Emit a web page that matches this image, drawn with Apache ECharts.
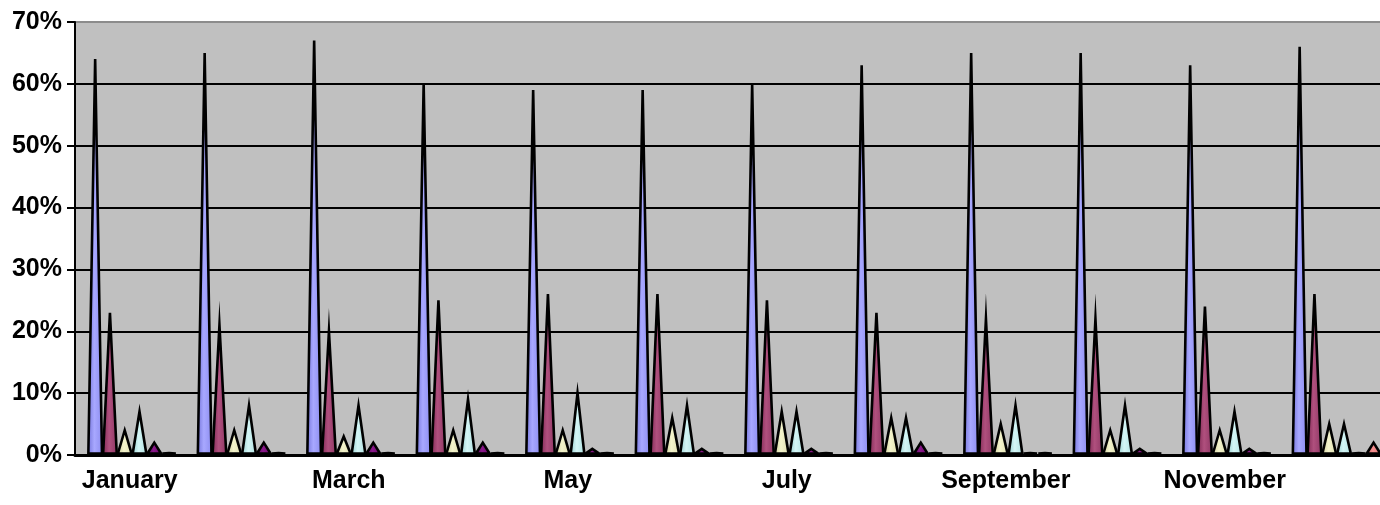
<!DOCTYPE html>
<html><head><meta charset="utf-8">
<script src="https://cdn.jsdelivr.net/npm/echarts@6/dist/echarts.min.js"></script>
<style>html,body{margin:0;padding:0;background:#fff;overflow:hidden;width:1380px;height:505px}#c{width:1390px;height:505px}</style>
</head><body><div id="c"></div>
<script>
const months = ['January','February','March','April','May','June','July','August','September','October','November','December'];
const yTicks = [0,10,20,30,40,50,60,70];
const s1 = [64,65,67,60,59,59,60,63,65,65,63,66];
const s2 = [23,21,20,25,26,26,25,23,22,22,24,26];
const s3 = [4,4,3,4,4,6,7,6,5,4,4,5];
const s4 = [7,8,8,9,10,8,7,6,8,8,7,5];
const s5 = [2,2,2,2,1,1,1,2,0.3,1,1,0.3];
const s6 = [0.3,0.3,0.3,0.3,0.3,0.3,0.3,0.3,0.3,0.3,0.3,2];
const seriesData = [s1,s2,s3,s4,s5,s6];
const palettes = [
  ['#6f6fd6','#a8a8ff','#8a8aee'],
  ['#7a2550','#b0507e','#8c3562'],
  ['#c8c894','#f4f4cc','#dcdcae'],
  ['#90caca','#d4f6f6','#aee0e0'],
  ['#550055','#8a1a8a','#6a006a'],
  ['#c85a5a','#f59090','#e07070']
];
function grad(p){
  return new echarts.graphic.LinearGradient(0,0,1,0,[
    {offset:0,color:p[0]},{offset:0.45,color:p[1]},{offset:1,color:p[2]}
  ]);
}
const N = seriesData.length;
function makeRender(si){
  return function(params, api){
    const idx = api.value(0);
    const val = api.value(1);
    const band = api.size([1,0])[0];
    const base = api.coord([idx, 0]);
    const top = api.coord([idx, val]);
    const groupW = band * 0.81;
    const pitch = groupW / N;
    const w = pitch * 0.92;
    const shift = band * 0.027;
    const x0 = base[0] - groupW/2 + si*pitch + shift;
    return {
      type:'polygon',
      shape:{points:[[x0, base[1]-1.5],[x0+w/2, top[1]],[x0+w, base[1]-1.5]]},
      style:{fill:grad(palettes[si]),stroke:'#000',lineWidth:2.6,lineJoin:'miter',miterLimit:20}
    };
  };
}
const chart = echarts.init(document.getElementById('c'));
const series = seriesData.map((d,i)=>({
  type:'custom',
  renderItem:makeRender(i),
  encode:{x:0,y:1},
  data:d.map((v,j)=>[j,v]),
  z:3,
  clip:false
}));
const splitColors = yTicks.map((t,i)=> i===yTicks.length-1 ? 'rgba(0,0,0,0)' : '#000');
chart.setOption({
  animation:false,
  grid:{left:75,top:22,bottom:50,right:1,show:true,backgroundColor:'#c0c0c0',borderColor:'#8c8c8c',borderWidth:2},
  xAxis:{
    type:'category',data:months,boundaryGap:true,
    axisLine:{lineStyle:{color:'#000',width:3}},
    axisTick:{interval:0,length:8,lineStyle:{color:'#000',width:2}},
    axisLabel:{interval:1,margin:14,color:'#000',fontFamily:'Liberation Sans, Arial, sans-serif',fontWeight:'bold',fontSize:25}
  },
  yAxis:{
    type:'value',min:0,max:70,interval:10,
    axisLine:{show:true,lineStyle:{color:'#000',width:2}},
    axisTick:{show:true,length:8,lineStyle:{color:'#000',width:2}},
    axisLabel:{formatter:'{value}%',margin:13,color:'#000',fontFamily:'Liberation Sans, Arial, sans-serif',fontWeight:'bold',fontSize:25},
    splitLine:{show:true,lineStyle:{color:splitColors,width:2}}
  },
  series:series
});
</script></body></html>
